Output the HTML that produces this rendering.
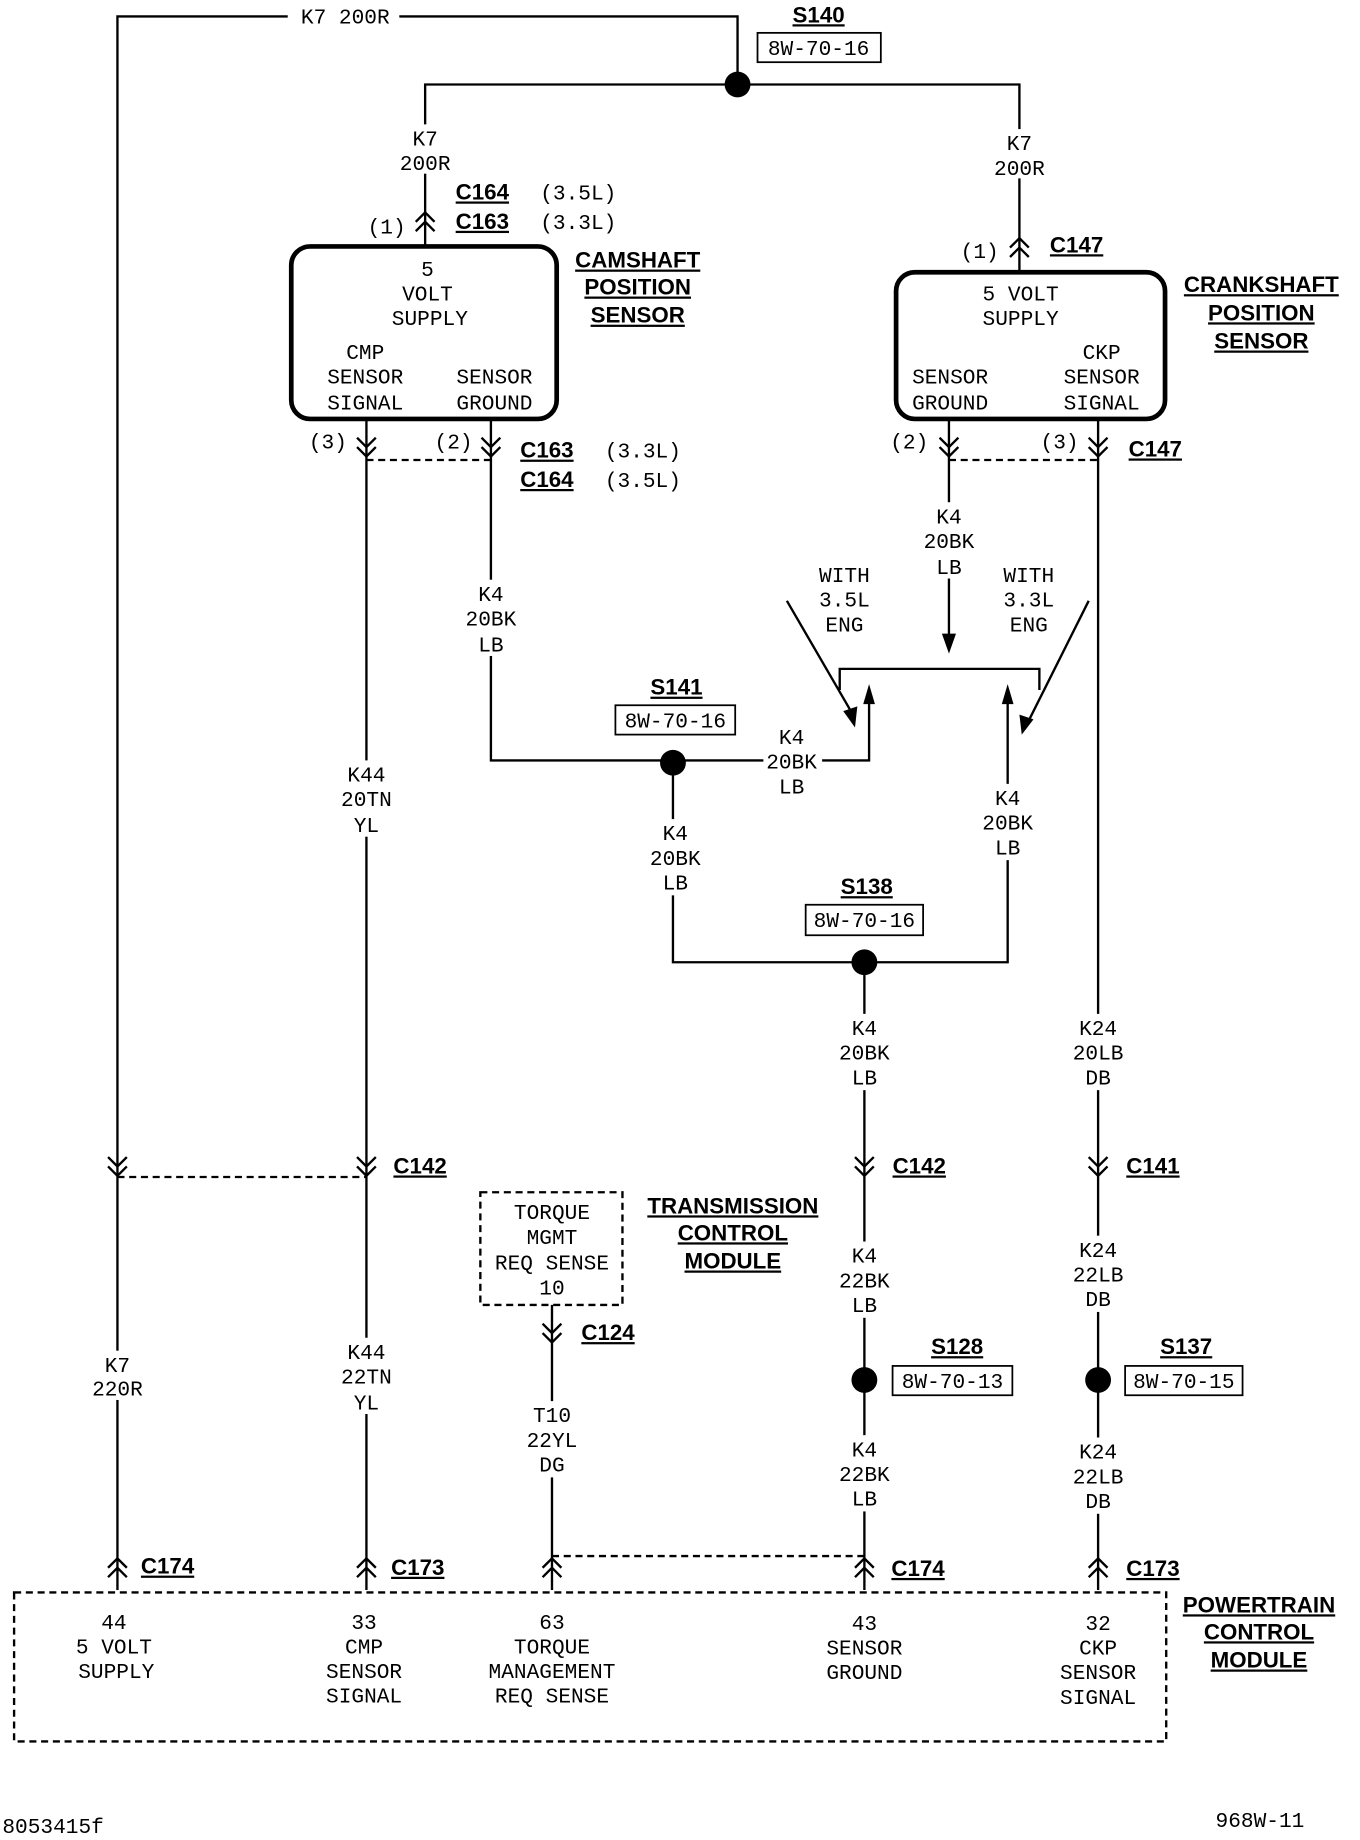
<!DOCTYPE html>
<html><head><meta charset="utf-8"><style>
html,body{margin:0;padding:0;background:#fff;}
svg{display:block;}
.t{font-family:"Liberation Mono",monospace;font-size:18px;fill:#000;text-anchor:middle;}
.b{font-family:"Liberation Sans",sans-serif;font-weight:bold;font-size:19px;fill:#000;text-anchor:middle;text-decoration:underline;}
.bl{font-family:"Liberation Sans",sans-serif;font-weight:bold;font-size:19px;fill:#000;text-decoration:underline;}
.tl{font-family:"Liberation Mono",monospace;font-size:18px;fill:#000;}
</style></head><body>
<svg width="1360" height="1840" viewBox="0 0 1158 1568" preserveAspectRatio="none" xmlns="http://www.w3.org/2000/svg">
<defs>
<path id="dn" d="M-8,-9 L0,-1 L8,-9 M-8,-1 L0,7 L8,-1" fill="none" stroke="#000" stroke-width="2"/>
<path id="up" d="M-8,9 L0,1 L8,9 M-8,1 L0,-7 L8,1" fill="none" stroke="#000" stroke-width="2"/>
</defs>
<g stroke="#000" stroke-width="2" fill="none">
<path d="M100,1355 V14 H245 M340,14 H628 V72"/>
<path d="M362,210 V72 H868 V232"/>
<rect x="248" y="210" width="226" height="147" rx="16" stroke-width="4"/>
<rect x="763" y="232" width="229" height="125" rx="16" stroke-width="4"/>
<path d="M312,357 V1355"/>
<path d="M418,357 V648 H573 H740 V590"/>
<path d="M808,357 V545"/>
<path d="M935,357 V1355"/>
<path d="M858,590 V820 H573 V650"/>
<path d="M736,820 V1355"/>
<path d="M470,1112 V1355"/>
<path d="M715,588 V570 H885 V588"/>
<path d="M670,512 L728,612"/>
<path d="M927,512 L874,618"/>
<path d="M312,392 H418 M808,392 H935 M100,1003 H312 M470,1326 H736" stroke-dasharray="6,4"/>
<rect x="409" y="1016" width="121" height="96" stroke-dasharray="6,4"/>
<rect x="12" y="1357" width="981" height="127" stroke-dasharray="6,4"/>
<rect x="645" y="28" width="105" height="25" stroke-width="1.5"/>
<rect x="524" y="601" width="102" height="25" stroke-width="1.5"/>
<rect x="686" y="771" width="100" height="26" stroke-width="1.5"/>
<rect x="760" y="1164" width="102" height="25" stroke-width="1.5"/>
<rect x="958" y="1164" width="100" height="25" stroke-width="1.5"/>
</g>
<g fill="#fff">
<rect x="300" y="648" width="24" height="65"/><rect x="406" y="494" width="24" height="65"/>
<rect x="350" y="106" width="24" height="42"/><rect x="856" y="110" width="24" height="42"/>
<rect x="796" y="428" width="24" height="65"/><rect x="563" y="698" width="24" height="65"/>
<rect x="846" y="668" width="24" height="65"/><rect x="724" y="864" width="24" height="65"/>
<rect x="923" y="864" width="24" height="65"/><rect x="724" y="1058" width="24" height="65"/>
<rect x="923" y="1053" width="24" height="65"/><rect x="724" y="1223" width="24" height="65"/>
<rect x="923" y="1225" width="24" height="65"/><rect x="88" y="1151" width="24" height="42"/>
<rect x="300" y="1140" width="24" height="65"/><rect x="458" y="1194" width="24" height="65"/>
<rect x="650" y="615" width="50" height="65"/>
</g>
<g fill="#000">
<circle cx="628" cy="72" r="11"/><circle cx="573" cy="650" r="11"/>
<circle cx="736" cy="820" r="11"/><circle cx="736" cy="1176" r="11"/><circle cx="935" cy="1176" r="11"/>
<polygon points="740,583 735,600 745,600"/><polygon points="858,583 853,600 863,600"/>
<polygon points="808,557 802,540 814,540"/>
<polygon points="728,620 718,606 730,602"/><polygon points="870,626 868,609 880,613"/>
</g>
<use href="#up" x="362" y="188"/><use href="#up" x="868" y="210"/>
<use href="#dn" x="312" y="382"/><use href="#dn" x="418" y="382"/>
<use href="#dn" x="808" y="382"/><use href="#dn" x="935" y="382"/>
<use href="#dn" x="100" y="995"/><use href="#dn" x="312" y="995"/>
<use href="#dn" x="736" y="995"/><use href="#dn" x="935" y="995"/>
<use href="#dn" x="470" y="1137"/>
<use href="#up" x="100" y="1335"/><use href="#up" x="312" y="1335"/><use href="#up" x="470" y="1335"/>
<use href="#up" x="736" y="1335"/><use href="#up" x="935" y="1335"/>
<text class="t" x="294" y="20">K7 200R</text>
<text class="b" x="697" y="19">S140</text>
<text class="t" x="697" y="47">8W-70-16</text>
<text class="t" x="362" y="124">K7</text><text class="t" x="362" y="145">200R</text>
<text class="t" x="868" y="128">K7</text><text class="t" x="868" y="149">200R</text>
<text class="tl" x="313" y="199">(1)</text>
<text class="bl" x="388" y="170">C164</text><text class="tl" x="460" y="170">(3.5L)</text>
<text class="bl" x="388" y="195">C163</text><text class="tl" x="460" y="195">(3.3L)</text>
<text class="tl" x="818" y="220">(1)</text><text class="bl" x="894" y="215">C147</text>
<text class="b" x="543" y="228">CAMSHAFT</text><text class="b" x="543" y="251">POSITION</text><text class="b" x="543" y="275">SENSOR</text>
<text class="b" x="1074" y="249">CRANKSHAFT</text><text class="b" x="1074" y="273">POSITION</text><text class="b" x="1074" y="297">SENSOR</text>
<text class="t" x="364" y="235">5</text><text class="t" x="364" y="256">VOLT</text><text class="t" x="366" y="277">SUPPLY</text>
<text class="t" x="311" y="306">CMP</text><text class="t" x="311" y="327">SENSOR</text><text class="t" x="311" y="349">SIGNAL</text>
<text class="t" x="421" y="327">SENSOR</text><text class="t" x="421" y="349">GROUND</text>
<text class="t" x="869" y="256">5 VOLT</text><text class="t" x="869" y="277">SUPPLY</text>
<text class="t" x="809" y="327">SENSOR</text><text class="t" x="809" y="349">GROUND</text>
<text class="t" x="938" y="306">CKP</text><text class="t" x="938" y="327">SENSOR</text><text class="t" x="938" y="349">SIGNAL</text>
<text class="tl" x="263" y="382">(3)</text><text class="tl" x="370" y="382">(2)</text>
<text class="bl" x="443" y="390">C163</text><text class="tl" x="515" y="390">(3.3L)</text>
<text class="bl" x="443" y="415">C164</text><text class="tl" x="515" y="415">(3.5L)</text>
<text class="tl" x="758" y="382">(2)</text><text class="tl" x="886" y="382">(3)</text>
<text class="bl" x="961" y="389">C147</text>
<text class="t" x="418" y="512">K4</text><text class="t" x="418" y="533">20BK</text><text class="t" x="418" y="555">LB</text>
<text class="t" x="312" y="666">K44</text><text class="t" x="312" y="687">20TN</text><text class="t" x="312" y="709">YL</text>
<text class="t" x="808" y="446">K4</text><text class="t" x="808" y="467">20BK</text><text class="t" x="808" y="489">LB</text>
<text class="t" x="719" y="496">WITH</text><text class="t" x="719" y="517">3.5L</text><text class="t" x="719" y="538">ENG</text>
<text class="t" x="876" y="496">WITH</text><text class="t" x="876" y="517">3.3L</text><text class="t" x="876" y="538">ENG</text>
<text class="b" x="576" y="592">S141</text><text class="t" x="575" y="620">8W-70-16</text>
<text class="t" x="674" y="634">K4</text><text class="t" x="674" y="655">20BK</text><text class="t" x="674" y="676">LB</text>
<text class="t" x="575" y="716">K4</text><text class="t" x="575" y="737">20BK</text><text class="t" x="575" y="758">LB</text>
<text class="t" x="858" y="686">K4</text><text class="t" x="858" y="707">20BK</text><text class="t" x="858" y="728">LB</text>
<text class="b" x="738" y="762">S138</text><text class="t" x="736" y="790">8W-70-16</text>
<text class="t" x="736" y="882">K4</text><text class="t" x="736" y="903">20BK</text><text class="t" x="736" y="924">LB</text>
<text class="t" x="935" y="882">K24</text><text class="t" x="935" y="903">20LB</text><text class="t" x="935" y="924">DB</text>
<text class="bl" x="335" y="1000">C142</text><text class="bl" x="760" y="1000">C142</text><text class="bl" x="959" y="1000">C141</text>
<text class="t" x="470" y="1039">TORQUE</text><text class="t" x="470" y="1060">MGMT</text><text class="t" x="470" y="1082">REQ SENSE</text><text class="t" x="470" y="1103">10</text>
<text class="b" x="624" y="1034">TRANSMISSION</text><text class="b" x="624" y="1057">CONTROL</text><text class="b" x="624" y="1081">MODULE</text>
<text class="bl" x="495" y="1142">C124</text>
<text class="t" x="736" y="1076">K4</text><text class="t" x="736" y="1097">22BK</text><text class="t" x="736" y="1118">LB</text>
<text class="t" x="935" y="1071">K24</text><text class="t" x="935" y="1092">22LB</text><text class="t" x="935" y="1113">DB</text>
<text class="b" x="815" y="1154">S128</text><text class="t" x="811" y="1183">8W-70-13</text>
<text class="b" x="1010" y="1154">S137</text><text class="t" x="1008" y="1183">8W-70-15</text>
<text class="t" x="100" y="1169">K7</text><text class="t" x="100" y="1189">220R</text>
<text class="t" x="312" y="1158">K44</text><text class="t" x="312" y="1179">22TN</text><text class="t" x="312" y="1201">YL</text>
<text class="t" x="470" y="1212">T10</text><text class="t" x="470" y="1233">22YL</text><text class="t" x="470" y="1254">DG</text>
<text class="t" x="736" y="1241">K4</text><text class="t" x="736" y="1262">22BK</text><text class="t" x="736" y="1283">LB</text>
<text class="t" x="935" y="1243">K24</text><text class="t" x="935" y="1264">22LB</text><text class="t" x="935" y="1285">DB</text>
<text class="bl" x="120" y="1341">C174</text><text class="bl" x="333" y="1342">C173</text>
<text class="bl" x="759" y="1343">C174</text><text class="bl" x="959" y="1343">C173</text>
<text class="t" x="97" y="1388">44</text><text class="t" x="97" y="1409">5 VOLT</text><text class="t" x="99" y="1430">SUPPLY</text>
<text class="t" x="310" y="1388">33</text><text class="t" x="310" y="1409">CMP</text><text class="t" x="310" y="1430">SENSOR</text><text class="t" x="310" y="1451">SIGNAL</text>
<text class="t" x="470" y="1388">63</text><text class="t" x="470" y="1409">TORQUE</text><text class="t" x="470" y="1430">MANAGEMENT</text><text class="t" x="470" y="1451">REQ SENSE</text>
<text class="t" x="736" y="1389">43</text><text class="t" x="736" y="1410">SENSOR</text><text class="t" x="736" y="1431">GROUND</text>
<text class="t" x="935" y="1389">32</text><text class="t" x="935" y="1410">CKP</text><text class="t" x="935" y="1431">SENSOR</text><text class="t" x="935" y="1452">SIGNAL</text>
<text class="b" x="1072" y="1374">POWERTRAIN</text><text class="b" x="1072" y="1397">CONTROL</text><text class="b" x="1072" y="1421">MODULE</text>
<text class="tl" x="2" y="1562">8053415f</text>
<text class="tl" x="1035" y="1557">968W-11</text>
</svg>
</body></html>
